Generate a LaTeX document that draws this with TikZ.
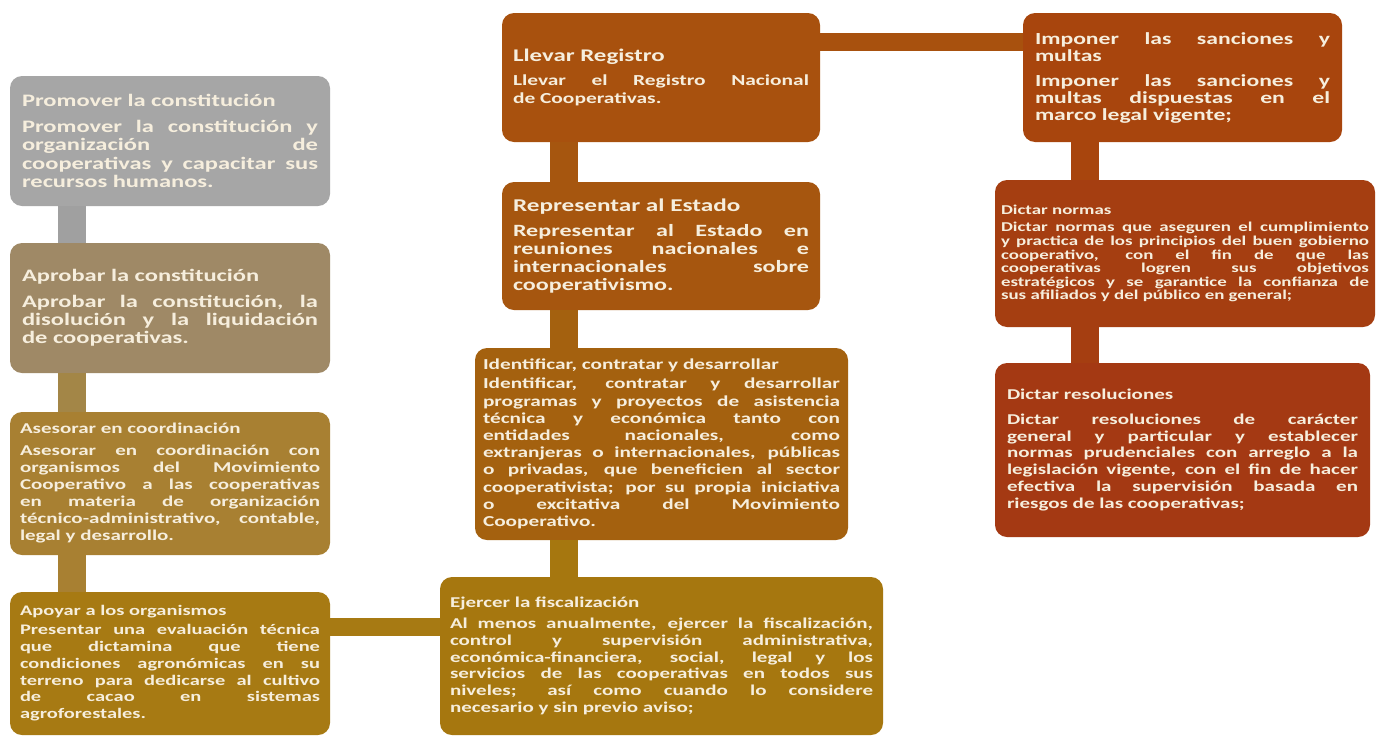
\documentclass[tikz,border=0pt]{standalone}
\usepackage{fontspec}
\newfontfamily\boxfont{Carlito}[FakeStretch=1.4]
\usepackage{xcolor}
\definecolor{boxtext}{HTML}{F6EEDD}
\definecolor{cPromover}{HTML}{A6A6A6}
\definecolor{cAprobar}{HTML}{9F8966}
\definecolor{cAsesorar}{HTML}{A88032}
\definecolor{cApoyar}{HTML}{A77A13}
\definecolor{cEjercer}{HTML}{A6770F}
\definecolor{cIdentificar}{HTML}{A4610F}
\definecolor{cRepresentar}{HTML}{A6560F}
\definecolor{cLlevar}{HTML}{A8510E}
\definecolor{cImponer}{HTML}{A8450D}
\definecolor{cNormas}{HTML}{A53E11}
\definecolor{cResol}{HTML}{A43913}
\definecolor{bGray}{HTML}{A0A0A0}
\definecolor{bTan}{HTML}{A38647}

\begin{document}
\begin{tikzpicture}[x=1pt, y=-1pt,
  box/.style={rectangle, rounded corners=12pt, text=boxtext, align=justify,
              inner sep=0pt,
              execute at begin node={\hyphenpenalty=10000 \exhyphenpenalty=10000
                \tolerance=10000 \hbadness=10000 \parindent=0pt}},
  fs/.style 2 args={font=\boxfont\bfseries\fontsize{#1}{#2}\selectfont},
  bar/.style={line width=28pt},
  hbar/.style={line width=18pt},
]
  \fill[white] (0,0) rectangle (1379,737);
  \useasboundingbox (0,0) rectangle (1379,737);

  % left column
  \node[box, fill=cPromover, minimum width=320pt, minimum height=130pt,
        text width=296pt, fs={17.5pt}{18.5pt}] (promover) at (170,141)
    {Promover la constitución\par\vspace{7pt}
     Promover la constitución y\linebreak organización de\linebreak
     cooperativas y capacitar sus\linebreak recursos humanos.};
  \node[box, fill=cAprobar, minimum width=320pt, minimum height=130pt,
        text width=296pt, fs={17.5pt}{18pt}] (aprobar) at (170,308)
    {Aprobar la constitución\par\vspace{8pt}
     Aprobar la constitución, la\linebreak disolución y la liquidación\linebreak
     de cooperativas.};
  \node[box, fill=cAsesorar, minimum width=320pt, minimum height=143pt,
        text width=300pt, fs={15pt}{17pt}] (asesorar) at (170,483.5)
    {Asesorar en coordinación\par\vspace{5pt}
     Asesorar en coordinación con\linebreak organismos del Movimiento\linebreak
     Cooperativo a las cooperativas\linebreak en materia de organización\linebreak
     técnico-administrativo, contable,\linebreak legal y desarrollo.};
  \node[box, fill=cApoyar, minimum width=320pt, minimum height=143pt,
        text width=300pt, fs={14.6pt}{16.8pt}] (apoyar) at (170,663.5)
    {Apoyar a los organismos\par\vspace{2pt}
     Presentar una evaluación técnica\linebreak que dictamina que tiene\linebreak
     condiciones agronómicas en su\linebreak terreno para dedicarse al cultivo\linebreak
     de cacao en sistemas\linebreak agroforestales.};

  % middle column
  \node[box, fill=cEjercer, minimum width=443pt, minimum height=158pt,
        text width=423pt, fs={15pt}{16.8pt}] (ejercer) at (661.5,656)
    {Ejercer la fiscalización\par\vspace{4pt}
     Al menos anualmente, ejercer la fiscalización,\linebreak
     control y supervisión administrativa,\linebreak
     económica-financiera, social, legal y los\linebreak
     servicios de las cooperativas en todos sus\linebreak
     niveles; así como cuando lo considere\linebreak
     necesario y sin previo aviso;};
  \node[box, fill=cIdentificar, minimum width=373pt, minimum height=192pt,
        text width=357pt, fs={15.2pt}{17.2pt}] (identificar) at (661.5,444)
    {Identificar, contratar y desarrollar\par\vspace{2pt}
     Identificar, contratar y desarrollar\linebreak
     programas y proyectos de asistencia\linebreak
     técnica y económica tanto con\linebreak
     entidades nacionales, como\linebreak
     extranjeras o internacionales, públicas\linebreak
     o privadas, que beneficien al sector\linebreak
     cooperativista; por su propia iniciativa\linebreak
     o excitativa del Movimiento\linebreak Cooperativo.};
  \node[box, fill=cRepresentar, minimum width=318pt, minimum height=128pt,
        text width=296pt, fs={17.2pt}{18pt}] (representar) at (661,246)
    {{\fontsize{18pt}{19pt}\selectfont Representar al Estado\par}\vspace{7pt}
     Representar al Estado en\linebreak reuniones nacionales e\linebreak
     internacionales sobre\linebreak cooperativismo.};
  \node[box, fill=cLlevar, minimum width=318pt, minimum height=129pt,
        text width=296pt, fs={15.3pt}{18pt}] (llevar) at (661,77.5)
    {{\fontsize{17.8pt}{19pt}\selectfont Llevar Registro\par}\vspace{6pt}
     Llevar el Registro Nacional\linebreak de Cooperativas.};

  % right column
  \node[box, fill=cImponer, minimum width=319pt, minimum height=129pt,
        text width=295pt, fs={16.9pt}{17pt}] (imponer) at (1182.5,77.5)
    {Imponer las sanciones y\linebreak multas\par\vspace{8pt}
     Imponer las sanciones y\linebreak multas dispuestas en el\linebreak
     marco legal vigente;};
  \node[box, fill=cNormas, minimum width=380pt, minimum height=147pt,
        text width=368pt, fs={13.5pt}{13.6pt}] (normas) at (1185,253.5)
    {Dictar normas\par\vspace{4pt}
     Dictar normas que aseguren el cumplimiento\linebreak
     y practica de los principios del buen gobierno\linebreak
     cooperativo, con el fin de que las\linebreak
     cooperativas logren sus objetivos\linebreak
     estratégicos y se garantice la confianza de\linebreak
     sus afiliados y del público en general;};
  \node[box, fill=cResol, minimum width=375pt, minimum height=174pt,
        text width=351pt, fs={15pt}{16.7pt}] (resoluciones) at (1182.5,450)
    {Dictar resoluciones\par\vspace{8pt}
     Dictar resoluciones de carácter\linebreak
     general y particular y establecer\linebreak
     normas prudenciales con arreglo a la\linebreak
     legislación vigente, con el fin de hacer\linebreak
     efectiva la supervisión basada en\linebreak
     riesgos de las cooperativas;};

  % connector bars
  \coordinate (lcol) at (72,0);
  \coordinate (mcol) at (564,0);
  \coordinate (rcol) at (1085,0);
  \coordinate (toprow) at (0,41.5);
  \coordinate (botrow) at (0,627);
  \draw[bar, bGray] (promover.south -| lcol) -- (aprobar.north -| lcol);
  \draw[bar, bTan] (aprobar.south -| lcol) -- (asesorar.north -| lcol);
  \draw[bar, cAsesorar] (asesorar.south -| lcol) -- (apoyar.north -| lcol);
  \draw[hbar, cApoyar] (apoyar.east |- botrow) -- (ejercer.west |- botrow);
  \draw[bar, cEjercer] (ejercer.north -| mcol) -- (identificar.south -| mcol);
  \draw[bar, cIdentificar] (identificar.north -| mcol) -- (representar.south -| mcol);
  \draw[bar, cRepresentar] (representar.north -| mcol) -- (llevar.south -| mcol);
  \draw[hbar, cLlevar] (llevar.east |- toprow) -- (imponer.west |- toprow);
  \draw[bar, cImponer] (imponer.south -| rcol) -- (normas.north -| rcol);
  \draw[bar, cNormas] (normas.south -| rcol) -- (resoluciones.north -| rcol);
\end{tikzpicture}
\end{document}
